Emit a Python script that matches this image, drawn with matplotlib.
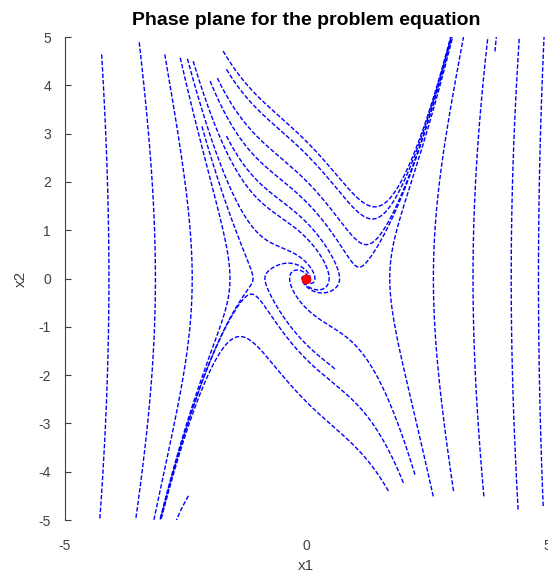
import numpy as np
import matplotlib
matplotlib.use("Agg")
import matplotlib.pyplot as plt

# Problem equation: x1' = x2, x2' = -x1 - damping*x2 + cubic*x1^3
damping = 1.0
cubic = 1.0

# Starting points of the trajectories
x1_start = [-4.24, -3.46, -2.93, -2.61, -2.46, -2.34, -1.99, -1.84, -1.72,
            -1.65, -2.16, -1.65,
            4.92, 4.40, 3.69, 3.06, 2.64, 2.26, 2.02, 1.71, 0.60, 3.92, -2.44]
x2_start = [4.64, 4.89, 4.64, 4.57, 4.55, 4.50, 4.09, 4.15, 4.71,
            4.33, 3.15, 2.95,
            -4.71, -4.78, -4.51, -4.40, -4.51, -4.06, -4.23, -4.40, -1.87, 4.70, -4.50]

x_ticks = [-5, 0, 5]
y_ticks = list(range(-5, 6))


def rhs(x):
    return np.array([x[1], -x[0] - damping * x[1] + cubic * x[0] ** 3])


def trajectory(x0, dt=0.005, t_end=20.0):
    # plain RK4, stopped once the point leaves the window
    pts = [np.array(x0, dtype=float)]
    x = pts[0]
    for _ in range(int(t_end / dt)):
        k1 = rhs(x)
        k2 = rhs(x + 0.5 * dt * k1)
        k3 = rhs(x + 0.5 * dt * k2)
        k4 = rhs(x + dt * k3)
        x = x + dt / 6.0 * (k1 + 2 * k2 + 2 * k3 + k4)
        pts.append(x)
        if abs(x[0]) > 6 or abs(x[1]) > 6:
            break
    return np.array(pts)


plt.rcParams["font.family"] = ["Liberation Sans", "DejaVu Sans"]
plt.rcParams["axes.unicode_minus"] = False
fig = plt.figure(figsize=(5.48, 5.80), dpi=100)
ax = fig.add_axes([0.1186, 0.1034, 0.8796, 0.8328])

for a, b in zip(x1_start, x2_start):
    tr = trajectory((a, b))
    ax.plot(tr[:, 0], tr[:, 1], color="#0000ff", lw=1.0,
            linestyle=(0, (3.2, 1.4)))

# equilibrium point
ax.plot(0, 0, "o", color="#ff0000", markersize=6)

ax.set_xlim(-5, 5)
ax.set_ylim(-5, 5)
ax.set_xticks(x_ticks)
ax.set_yticks(y_ticks)
for s in ["top", "right", "bottom"]:
    ax.spines[s].set_visible(False)
ax.spines["left"].set_color("#404040")
ax.tick_params(axis="y", direction="in", length=4, colors="#404040",
               labelsize=10, pad=10)
ax.tick_params(axis="x", length=0, colors="#404040", labelsize=10, pad=14)
ax.set_xlabel("x1", fontsize=11, color="#404040", labelpad=4)
ax.set_ylabel("x2", fontsize=11, color="#404040", labelpad=8)
ax.set_title("Phase plane for the problem equation", fontsize=14,
             fontweight="bold", pad=9)

fig.savefig("out.png", dpi=100)
